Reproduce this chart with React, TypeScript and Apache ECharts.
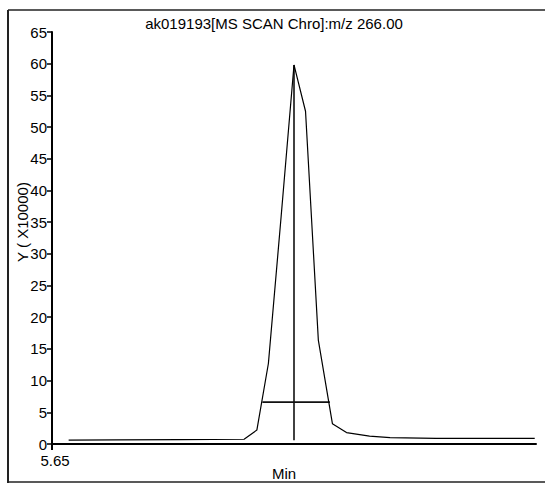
import React, { useEffect, useRef } from "react";
import * as echarts from "echarts";

// Retention time (min) and intensity (x10000)
const times = [5.663, 5.7, 5.75, 5.8, 5.81, 5.819, 5.829, 5.839, 5.848, 5.858, 5.869, 5.88, 5.898, 5.914, 5.95, 6.0, 6.027];
const intensity = [0.6, 0.65, 0.7, 0.75, 2.2, 12.7, 36, 59.8, 52.5, 16.4, 3.2, 1.8, 1.25, 1.0, 0.9, 0.9, 0.9];

// Peak marker: apex line and half-height width line
const apexTimes = [5.839, 5.839];
const apexValues = [0.6, 59.8];
const halfTimes = [5.8143, 5.867];
const halfValues = [6.6, 6.6];

const yTicks = [0, 65, 5]; // min, max, interval
const xRange = [5.65, 6.028];
const xLabels = [5.65];

const title = "ak019193[MS SCAN Chro]:m/z 266.00";
const yName = "Y ( X10000)";
const xName = "Min";

export default function App() {
  const ref = useRef<HTMLDivElement>(null);
  useEffect(() => {
    if (!ref.current) return;
    const chart = echarts.init(ref.current, null, { renderer: "svg" });
    const font = "'Liberation Sans', Arial, sans-serif";
    const zip = (a: number[], b: number[]) => a.map((t, i) => [t, b[i]]);
    chart.setOption({
      animation: false,
      backgroundColor: "#ffffff",
      textStyle: { fontFamily: font },
      title: {
        text: title,
        left: 269,
        top: 11,
        textAlign: "center",
        textStyle: { fontSize: 15, fontWeight: "normal", color: "#000", fontFamily: font },
      },
      grid: { left: 52, right: 9, top: 32, bottom: 39 },
      xAxis: {
        type: "value",
        min: xRange[0],
        max: xRange[1],
        axisLine: { show: true, lineStyle: { color: "#000", width: 2 } },
        axisTick: { show: true, length: 6, customValues: xLabels, lineStyle: { color: "#000", width: 2 } },
        axisLabel: {
          customValues: xLabels,
          formatter: (v: number) => v.toFixed(2),
          fontSize: 15,
          color: "#000",
          margin: 9,
          padding: [0, 0, 0, 6],
          fontFamily: font,
        },
        splitLine: { show: false },
      },
      yAxis: {
        type: "value",
        min: yTicks[0],
        max: yTicks[1],
        interval: yTicks[2],
        axisLine: { show: true, lineStyle: { color: "#000", width: 2 } },
        axisTick: { show: true, length: 5, lineStyle: { color: "#000", width: 1.5 } },
        axisLabel: { fontSize: 15, color: "#000", margin: 5, fontFamily: font },
        splitLine: { show: false },
      },
      series: [
        {
          type: "line",
          data: zip(times, intensity),
          showSymbol: false,
          lineStyle: { color: "#000", width: 1.2 },
          z: 3,
        },
        {
          type: "line",
          data: zip(apexTimes, apexValues),
          showSymbol: false,
          lineStyle: { color: "#111", width: 1.6 },
          z: 2,
        },
        {
          type: "line",
          data: zip(halfTimes, halfValues),
          showSymbol: false,
          lineStyle: { color: "#111", width: 1.6 },
          z: 2,
        },
      ],
      graphic: [
        { type: "line", shape: { x1: 8, y1: 10, x2: 545, y2: 10 }, style: { stroke: "#222", lineWidth: 1.5 } },
        { type: "line", shape: { x1: 8, y1: 10, x2: 8, y2: 483 }, style: { stroke: "#222", lineWidth: 2 } },
        { type: "line", shape: { x1: 8, y1: 482, x2: 545, y2: 482 }, style: { stroke: "#222", lineWidth: 1.5 } },
        {
          type: "text",
          x: 22,
          y: 222,
          rotation: Math.PI / 2,
          style: { text: yName, fontSize: 15, fill: "#000", align: "center", verticalAlign: "middle", fontFamily: font },
        },
        {
          type: "text",
          x: 284,
          y: 473,
          style: { text: xName, fontSize: 15, fill: "#000", align: "center", verticalAlign: "middle", fontFamily: font },
        },
      ],
    });
    return () => chart.dispose();
  }, []);
  return <div ref={ref} style={{ position: "fixed", left: 0, top: 0, width: 545, height: 483 }} />;
}
